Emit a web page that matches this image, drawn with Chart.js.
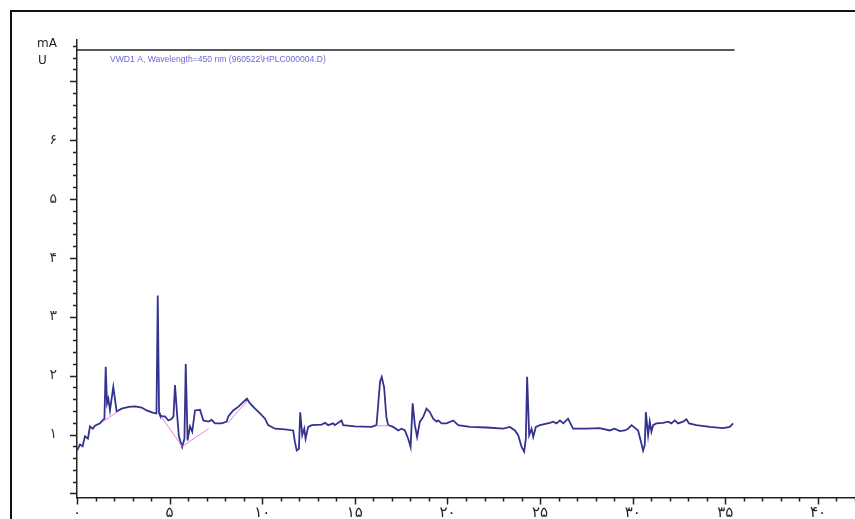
<!DOCTYPE html>
<html>
<head>
<meta charset="utf-8">
<script src="https://cdn.jsdelivr.net/npm/chart.js@4.4.1/dist/chart.umd.min.js"></script>
<style>
  html, body { margin: 0; padding: 0; background: #fff; overflow: hidden; }
  #wrap { position: relative; width: 855px; height: 519px; }
  .frame { position: absolute; left: 10px; top: 10px; right: 0; bottom: 0;
           border-left: 2px solid #111; border-top: 2px solid #111; }
  canvas { position: absolute; left: 0; top: 0; }
</style>
</head>
<body>
<div id="wrap">
  <div class="frame"></div>
  <canvas id="hplc" width="855" height="519"></canvas>
</div>
<script>
// retention time (min) and detector signal (mAU)
var times = [0.00,0.16,0.30,0.43,0.59,0.70,0.85,0.97,1.24,1.40,1.48,1.55,1.62,1.69,1.78,1.96,2.14,2.41,2.80,3.13,
  3.49,3.76,4.12,4.29,4.36,4.43,4.48,4.60,4.75,4.93,5.11,5.21,5.29,5.40,5.50,5.68,5.80,5.87,5.97,6.10,
  6.22,6.37,6.64,6.82,7.09,7.27,7.45,7.81,8.08,8.17,8.43,8.70,8.97,9.17,9.34,9.61,9.88,10.15,10.32,10.69,
  11.22,11.67,11.76,11.86,11.98,12.05,12.16,12.27,12.34,12.48,12.67,13.21,13.39,13.56,13.83,13.92,14.28,14.37,15.00,15.90,
  16.17,16.27,16.36,16.45,16.58,16.70,16.80,17.07,17.34,17.52,17.70,17.88,18.01,18.12,18.24,18.36,18.51,18.69,18.87,19.05,
  19.23,19.41,19.50,19.68,19.95,20.31,20.58,21.21,22.11,23.01,23.37,23.64,23.82,24.00,24.14,24.23,24.30,24.41,24.54,24.63,
  24.77,24.99,25.53,25.70,25.89,26.07,26.25,26.51,26.78,27.51,28.22,28.76,29.03,29.30,29.57,29.75,29.94,30.29,30.47,30.56,
  30.65,30.71,30.83,30.92,31.01,31.10,31.28,31.64,31.91,32.09,32.27,32.45,32.72,32.90,33.04,33.44,34.16,34.88,35.24,35.42];
var signal = [0.73,0.83,0.80,0.97,0.93,1.14,1.10,1.15,1.19,1.25,1.27,2.15,1.53,1.61,1.41,1.81,1.39,1.44,1.47,1.48,
  1.46,1.41,1.37,1.36,3.36,1.37,1.33,1.31,1.31,1.24,1.27,1.31,1.84,1.36,0.97,0.79,0.93,2.20,0.90,1.14,
  1.05,1.41,1.42,1.24,1.22,1.25,1.19,1.19,1.22,1.31,1.41,1.47,1.55,1.61,1.53,1.44,1.36,1.27,1.16,1.10,
  1.09,1.07,0.88,0.73,0.76,1.38,0.99,1.10,0.93,1.13,1.16,1.17,1.20,1.16,1.19,1.16,1.24,1.16,1.14,1.13,
  1.16,1.55,1.90,1.98,1.80,1.30,1.16,1.13,1.07,1.10,1.07,0.93,0.79,1.53,1.16,0.96,1.22,1.30,1.44,1.38,
  1.27,1.22,1.24,1.19,1.19,1.24,1.16,1.13,1.12,1.10,1.13,1.07,0.99,0.79,0.71,0.93,1.98,0.99,1.10,0.96,
  1.13,1.16,1.20,1.22,1.19,1.24,1.19,1.27,1.10,1.10,1.11,1.07,1.10,1.06,1.07,1.10,1.16,1.07,0.85,0.73,
  0.82,1.38,0.99,1.22,1.05,1.16,1.19,1.20,1.22,1.19,1.24,1.19,1.22,1.26,1.19,1.16,1.13,1.11,1.13,1.19];

// integration baselines (null breaks between segments)
var baseTimes = [1.40,2.25,null,4.55,5.68,7.10,null,8.15,9.20,null,16.15,16.85];
var baseSignal = [1.22,1.40,null,1.30,0.80,1.10,null,1.20,1.58,null,1.15,1.15];

// header rule at the top of the plot
var headerTimes = [0, 35.5];
var headerSignal = [7.53, 7.53];

var yTickValues = [];
for (var i = 0; i <= 38; i++) yTickValues.push(Math.round(i * 20) / 100);
var xTickValues = [];
for (var j = 0; j <= 42; j++) xTickValues.push(j);

var faDigits = '۰۱۲۳۴۵۶۷۸۹';
function toFa(n) {
  return String(n).replace(/\d/g, function (d) { return faDigits[d]; });
}
function isInt(v) { return Math.abs(v - Math.round(v)) < 1e-6; }

function pts(xs, ys) {
  return xs.map(function (x, k) { return x === null ? { x: NaN, y: null } : { x: x, y: ys[k] }; });
}

// tick marks + text that chart.js can't do on its own
const decor = {
  id: 'decor',
  afterDraw(chart) {
    const ctx = chart.ctx;
    const xs = chart.scales.x, ys = chart.scales.y;
    const area = chart.chartArea;
    ctx.save();
    ctx.strokeStyle = '#222';
    ctx.lineWidth = 1.5;
    ctx.beginPath();
    yTickValues.forEach(function (v) {
      const py = Math.round(ys.getPixelForValue(v)) + 0.5;
      const len = isInt(v) ? 7 : 4;
      ctx.moveTo(area.left - len, py);
      ctx.lineTo(area.left, py);
    });
    xTickValues.forEach(function (v) {
      const px = Math.round(xs.getPixelForValue(v)) + 0.5;
      const len = v % 5 === 0 ? 7 : 4;
      ctx.moveTo(px, area.bottom);
      ctx.lineTo(px, area.bottom + len);
    });
    ctx.stroke();

    ctx.fillStyle = '#222';
    ctx.font = '12px "DejaVu Sans", sans-serif';
    ctx.textAlign = 'left';
    ctx.textBaseline = 'alphabetic';
    ctx.fillText('mA', 37, 47);
    ctx.fillText('U', 38, 64);

    ctx.fillStyle = '#6a6ad8';
    ctx.font = '8.6px "Liberation Sans", sans-serif';
    ctx.fillText('VWD1 A, Wavelength=450 nm (960522\\HPLC000004.D)', 110, 62, 216);
    ctx.restore();
  }
};

const config = {
  type: 'line',
  data: {
    datasets: [
      {
        label: 'header',
        data: pts(headerTimes, headerSignal),
        borderColor: '#222',
        borderWidth: 1.3,
        pointRadius: 0
      },
      {
        label: 'baseline',
        data: pts(baseTimes, baseSignal),
        borderColor: 'rgba(226,110,214,0.85)',
        borderWidth: 1,
        pointRadius: 0,
        spanGaps: false
      },
      {
        label: 'VWD1 A',
        data: pts(times, signal),
        borderColor: '#33338f',
        borderWidth: 1.8,
        pointRadius: 0,
        tension: 0
      }
    ]
  },
  options: {
    responsive: false,
    devicePixelRatio: 1,
    animation: false,
    layout: { padding: { top: 40, right: 0, left: 0, bottom: 0 } },
    plugins: { legend: { display: false }, tooltip: { enabled: false } },
    scales: {
      x: {
        type: 'linear',
        min: 0,
        max: 42,
        afterBuildTicks: function (s) { s.ticks = xTickValues.map(function (v) { return { value: v }; }); },
        afterFit: function (s) { s.height = 20; },
        border: { display: true, color: '#222', width: 1.5 },
        grid: { drawOnChartArea: false, tickLength: 7, tickColor: 'rgba(0,0,0,0)' },
        ticks: {
          autoSkip: false,
          maxRotation: 0,
          padding: 0,
          color: '#222',
          font: { family: 'DejaVu Sans', size: 15 },
          callback: function (v) { return v % 5 === 0 ? toFa(v) : ''; }
        }
      },
      y: {
        min: -0.07,
        max: 7.7,
        afterBuildTicks: function (s) { s.ticks = yTickValues.map(function (v) { return { value: v }; }); },
        afterFit: function (s) { s.width = 77; },
        border: { display: true, color: '#222', width: 1.5 },
        grid: { drawOnChartArea: false, tickLength: 7, tickColor: 'rgba(0,0,0,0)' },
        ticks: {
          autoSkip: false,
          padding: 13,
          color: '#333',
          font: { family: 'DejaVu Sans', size: 14 },
          callback: function (v) { return (isInt(v) && v >= 1 && v <= 6) ? toFa(Math.round(v)) : ''; }
        }
      }
    }
  },
  plugins: [decor]
};

const hplcCtx = document.getElementById('hplc');
window.hplcChart = new Chart(hplcCtx, config);
</script>
</body>
</html>
